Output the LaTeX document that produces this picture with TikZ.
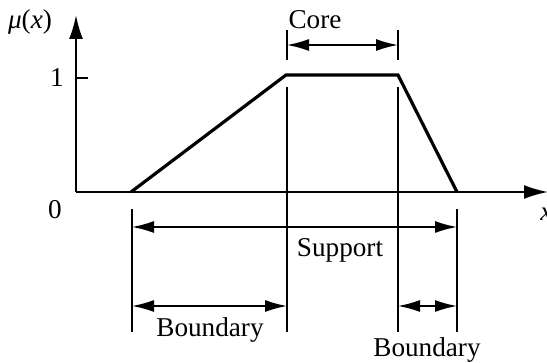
\documentclass[tikz,border=0pt]{standalone}
\usepackage{fontspec}
\setmainfont{Liberation Serif}
\usepackage{tikz}
\usetikzlibrary{positioning, arrows.meta}

\tikzset{
  dimline/.style={line width=0.8pt, {Latex[length=11pt,width=6pt]}-{Latex[length=11pt,width=6pt]}},
  guide/.style={line width=0.8pt},
  lbl/.style={font=\fontsize{13.6}{16}\selectfont, inner sep=0pt}
}

\begin{document}
\begin{tikzpicture}[x=0.5pt, y=-0.5pt]
        \useasboundingbox (0,0) rectangle (547,363);
        % Axes
        \coordinate (o) at (76,192);
        \coordinate (ytop) at (76,15);
        \coordinate (xend) at (548,192);
        \draw[line width=1pt, -{Latex[length=12pt,width=7pt]}] (o) -- (ytop);
        \draw[line width=1pt, -{Latex[length=12pt,width=7pt]}] (o) -- (xend);
        \node[lbl] (mu) at (30,22) {\textit{μ}(\textit{x})};
        \node[lbl, anchor=west] (xlab) at (540,214) {\textit{x}};
        \node[lbl] (zero) at (55,210) {0};
        % Tick at 1
        \coordinate (t1) at (76,78);
        \coordinate (t1r) at (88,78);
        \draw[line width=1pt] (t1) -- (t1r);
        \node[lbl] (one) at (57,78) {1};
        % Membership function (trapezoid)
        \coordinate (a) at (131,192);
        \coordinate (b) at (286,75);
        \coordinate (c) at (398,75);
        \coordinate (d) at (457,192);
        \draw[line width=1.6pt, line join=miter] (a) -- (b) -- (c) -- (d);
        % Guide lines down from the corners
        \coordinate (ga) at (132,209);  \coordinate (ga') at (132,332);
        \coordinate (gb) at (287,87);   \coordinate (gb') at (287,332);
        \coordinate (gc) at (398,87);   \coordinate (gc') at (398,332);
        \coordinate (gd) at (457,209);  \coordinate (gd') at (457,332);
        \foreach \p in {a,b,c,d} {\draw[guide] (g\p) -- (g\p');}
        % Core
        \coordinate (cl) at (287,30);  \coordinate (cl') at (287,60);
        \coordinate (cr) at (398,30);  \coordinate (cr') at (398,60);
        \draw[guide] (cl) -- (cl');
        \draw[guide] (cr) -- (cr');
        \draw[dimline] (287,45) coordinate (c1) -- (398,45) coordinate (c2);
        \node[lbl] (core) at (315,20) {Core};
        % Support
        \draw[dimline] (132,227) coordinate (s1) -- (457,227) coordinate (s2);
        \node[lbl] (support) at (340,250) {Support};
        % Boundaries
        \draw[dimline] (132,306) coordinate (l1) -- (287,306) coordinate (l2);
        \node[lbl] (bleft) at (210,330) {Boundary};
        \draw[dimline] (398,306) coordinate (r1) -- (457,306) coordinate (r2);
        \node[lbl] (bright) at (427,350) {Boundary};
      \end{tikzpicture}
\end{document}
